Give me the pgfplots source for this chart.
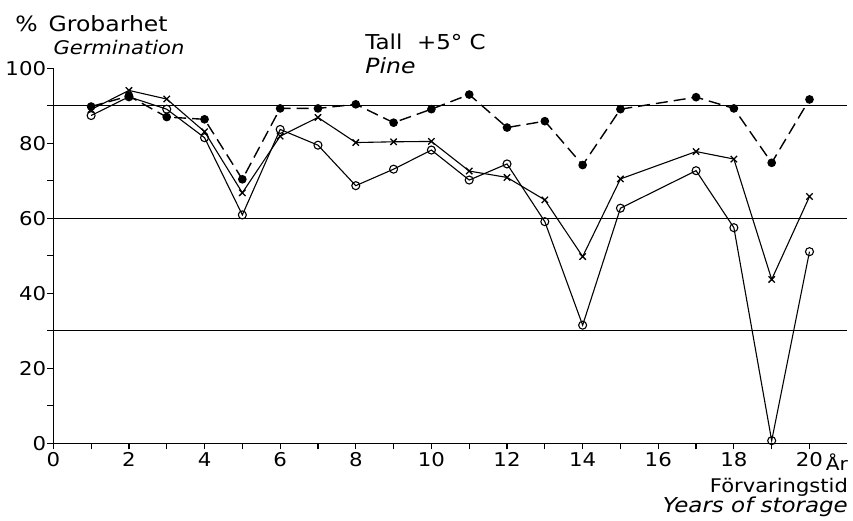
\documentclass[border=0pt]{standalone}
\usepackage{fontspec}
\setmainfont{DejaVu Sans}[FakeStretch=1.12, ItalicFont={* Oblique}]
\usepackage{pgfplots}
\pgfplotsset{compat=1.18}
\begin{document}
\begin{tikzpicture}
\begin{axis}[
  scale only axis, width=794pt, height=375pt,
  xmin=0, xmax=21, ymin=0, ymax=100,
  axis x line=bottom, axis y line=left,
  axis line style={-, line width=1.5pt},
  xtick={0,2,...,20}, minor xtick={1,3,...,19},
  ytick={0,20,...,100}, minor ytick={10,30,...,90},
  tick align=outside, major tick length=6pt, minor tick length=6pt,
  tick style={black, line width=1.2pt},
  tick label style={font=\fontsize{19}{22}\selectfont},
  /pgf/number format/assume math mode=true,
  yticklabel style={inner sep=1pt},
  xticklabel style={inner sep=3pt},
  clip=false,
]
\coordinate (O) at (axis cs:0,0);
\draw[line width=0.9pt] (axis cs:0,30) -- (axis cs:21,30);
\draw[line width=0.9pt] (axis cs:0,60) -- (axis cs:21,60);
\draw[line width=0.9pt] (axis cs:0,90) -- (axis cs:21,90);

\addplot[black, line width=1.4pt, dash pattern=on 12pt off 6pt, mark=*, mark size=3.6pt, mark options={solid}] coordinates {
(1,89.8) (2,92.6) (3,87.0) (4,86.4) (5,70.4) (6,89.3) (7,89.3) (8,90.4) (9,85.5) (10,89.1)
(11,93.0) (12,84.2) (13,85.9) (14,74.2) (15,89.1) (17,92.3) (18,89.3) (19,74.8) (20,91.7)};

\addplot[black, line width=1.1pt, mark=x, mark size=4.5pt, mark options={line width=1.3pt}] coordinates {
(1,89.0) (2,94.1) (3,91.8) (4,83.1) (5,66.8) (6,81.9) (7,86.9) (8,80.2) (9,80.4) (10,80.5)
(11,72.6) (12,70.9) (13,64.9) (14,49.8) (15,70.5) (17,77.8) (18,75.8) (19,43.7) (20,65.8)};

\addplot[black, line width=1.1pt, mark=o, mark size=4pt, mark options={fill=white}] coordinates {
(1,87.4) (2,92.4) (3,89.1) (4,81.5) (5,60.9) (6,83.7) (7,79.5) (8,68.7) (9,73.1) (10,78.2)
(11,70.2) (12,74.5) (13,59.1) (14,31.5) (15,62.7) (17,72.7) (18,57.5) (19,0.7) (20,51.1)};

\node[anchor=base west, inner sep=0, font=\fontsize{21}{24}\selectfont] at (axis cs:-1.01,109.8) {\%\,\ Grobarhet};
\node[anchor=base west, inner sep=0, font=\fontsize{18.8}{22}\selectfont\itshape] at (axis cs:0,103.8) {Germination};
\node[anchor=base west, inner sep=0, font=\fontsize{20.5}{24}\selectfont] at (axis cs:8.25,104.9) {Tall\ \ +5° C};
\node[anchor=base west, inner sep=0, font=\fontsize{21}{24}\selectfont\itshape] at (axis cs:8.25,98.5) {Pine};
\node[anchor=base east, inner sep=0, font=\fontsize{18}{20}\selectfont] at (axis cs:21.02,-7.2) {År};
\node[anchor=base east, inner sep=0, font=\fontsize{18.8}{22}\selectfont] at (axis cs:21.02,-13.25) {Förvaringstid};
\node[anchor=base east, inner sep=0, font=\fontsize{20.5}{24}\selectfont\itshape] at (axis cs:21.02,-18.5) {Years of storage};
\end{axis}
\pgfresetboundingbox
\useasboundingbox (O) ++(-53.3pt,-76.7pt) rectangle ++(853pt,520pt);
\end{tikzpicture}
\end{document}
